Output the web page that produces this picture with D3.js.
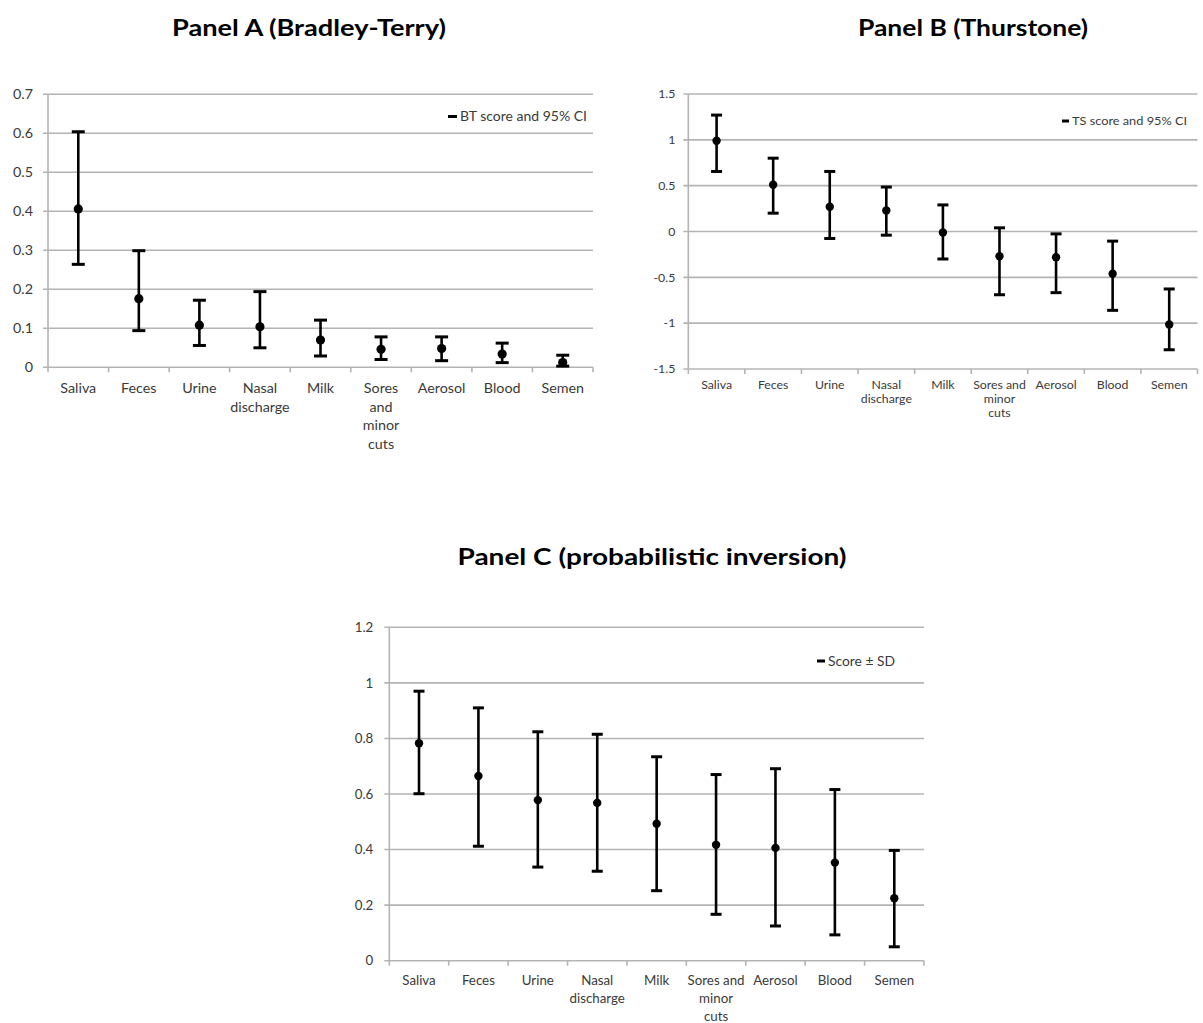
<!DOCTYPE html>
<html>
<head>
<meta charset="utf-8">
<script src="https://cdn.jsdelivr.net/npm/d3@7"></script>
<style>
  html, body { margin: 0; padding: 0; background: #fff; }
  svg { display: block; }
</style>
</head>
<body>
<svg id="chart" width="1203" height="1023"></svg>
<script>
// ---------------- DATA ----------------
const categories = ["Saliva", "Feces", "Urine", "Nasal discharge", "Milk",
  "Sores and minor cuts", "Aerosol", "Blood", "Semen"];

// Wrapped category tick labels per panel
const tickLabelsA = [["Saliva"], ["Feces"], ["Urine"], ["Nasal", "discharge"], ["Milk"],
  ["Sores", "and", "minor", "cuts"], ["Aerosol"], ["Blood"], ["Semen"]];
const tickLabelsBC = [["Saliva"], ["Feces"], ["Urine"], ["Nasal", "discharge"], ["Milk"],
  ["Sores and", "minor", "cuts"], ["Aerosol"], ["Blood"], ["Semen"]];

// Panel A (Bradley-Terry): score and 95% CI
const btScore = [0.406, 0.176, 0.108, 0.104, 0.070, 0.046, 0.048, 0.034, 0.012];
const btUpper = [0.604, 0.299, 0.172, 0.194, 0.121, 0.078, 0.078, 0.062, 0.031];
const btLower = [0.264, 0.094, 0.056, 0.050, 0.029, 0.020, 0.017, 0.012, 0.003];
const yTicksA = [0, 0.1, 0.2, 0.3, 0.4, 0.5, 0.6, 0.7];

// Panel B (Thurstone): score and 95% CI
const tsScore = [0.99, 0.51, 0.27, 0.23, -0.01, -0.27, -0.28, -0.46, -1.015];
const tsUpper = [1.27, 0.80, 0.655, 0.485, 0.29, 0.04, -0.026, -0.105, -0.627];
const tsLower = [0.655, 0.20, -0.076, -0.04, -0.30, -0.69, -0.667, -0.86, -1.29];
const yTicksB = [-1.5, -1, -0.5, 0, 0.5, 1, 1.5];

// Panel C (probabilistic inversion): score ± SD
const piScore = [0.783, 0.665, 0.578, 0.568, 0.493, 0.417, 0.406, 0.353, 0.225];
const piUpper = [0.970, 0.910, 0.824, 0.815, 0.734, 0.670, 0.691, 0.616, 0.397];
const piLower = [0.601, 0.412, 0.337, 0.322, 0.252, 0.167, 0.125, 0.093, 0.050];
const yTicksC = [0, 0.2, 0.4, 0.6, 0.8, 1, 1.2];

const titles = ["Panel A (Bradley-Terry)", "Panel B (Thurstone)", "Panel C (probabilistic inversion)"];
const legends = ["BT score and 95% CI", "TS score and 95% CI", "Score \u00b1 SD"];

// ---------------- DRAW ----------------
const svg = d3.select("#chart");
const FONT = "Lato, 'Open Sans', 'DejaVu Sans', sans-serif";
const GRID = "#b4b4b4";
const TXT = "#3a3a3a";

function drawPanel(cfg) {
  const g = svg.append("g");
  const x = d3.scaleBand().domain(categories).range([cfg.left, cfg.right]).padding(0);
  const y = d3.scaleLinear().domain(cfg.domain).range([cfg.bottom, cfg.top]);

  // gridlines (horizontal) + y ticks
  g.append("g").selectAll("line.grid").data(cfg.yTicks).join("line")
    .attr("x1", cfg.left - 5).attr("x2", cfg.right)
    .attr("y1", d => y(d)).attr("y2", d => y(d))
    .attr("stroke", GRID).attr("stroke-width", 1.6);

  // y axis line
  g.append("line")
    .attr("x1", cfg.left).attr("x2", cfg.left)
    .attr("y1", y(cfg.domain[1])).attr("y2", y(cfg.domain[0]))
    .attr("stroke", GRID).attr("stroke-width", 1.6);

  // y tick labels
  g.append("g").selectAll("text").data(cfg.yTicks).join("text")
    .attr("x", cfg.left - cfg.yLabelGap).attr("y", d => y(d))
    .attr("dy", "0.35em")
    .attr("text-anchor", "end")
    .attr("font-family", FONT).attr("font-size", cfg.fontSize).attr("fill", TXT)
    .text(d => d3.format("")(d).replace("\u2212", "-"));

  // x category boundary ticks
  const bounds = categories.map(c => x(c)).concat([cfg.right]);
  g.append("g").selectAll("line").data(bounds).join("line")
    .attr("x1", d => d).attr("x2", d => d)
    .attr("y1", cfg.bottom).attr("y2", cfg.bottom + 5)
    .attr("stroke", GRID).attr("stroke-width", 1.6);

  // x category labels
  const lab = g.append("g").selectAll("text").data(categories).join("text")
    .attr("text-anchor", "middle")
    .attr("font-family", FONT).attr("font-size", cfg.fontSize).attr("fill", TXT)
    .attr("x", d => x(d) + x.bandwidth() / 2)
    .attr("y", cfg.bottom + cfg.xLabelOffset);
  lab.each(function(d, i) {
    d3.select(this).selectAll("tspan").data(cfg.tickLabels[i]).join("tspan")
      .attr("x", x(d) + x.bandwidth() / 2)
      .attr("dy", (t, j) => j === 0 ? 0 : cfg.lineHeight)
      .text(t => t);
  });

  // error bars
  const rows = categories.map((c, i) => ({ c, v: cfg.score[i], hi: cfg.upper[i], lo: cfg.lower[i] }));
  const eb = g.append("g").selectAll("g").data(rows).join("g");
  eb.append("line")
    .attr("x1", d => x(d.c) + x.bandwidth() / 2).attr("x2", d => x(d.c) + x.bandwidth() / 2)
    .attr("y1", d => y(d.hi)).attr("y2", d => y(d.lo))
    .attr("stroke", "#000").attr("stroke-width", 2.6);
  eb.append("line")
    .attr("x1", d => x(d.c) + x.bandwidth() / 2 - cfg.cap / 2)
    .attr("x2", d => x(d.c) + x.bandwidth() / 2 + cfg.cap / 2)
    .attr("y1", d => y(d.hi)).attr("y2", d => y(d.hi))
    .attr("stroke", "#000").attr("stroke-width", 3);
  eb.append("line")
    .attr("x1", d => x(d.c) + x.bandwidth() / 2 - cfg.cap / 2)
    .attr("x2", d => x(d.c) + x.bandwidth() / 2 + cfg.cap / 2)
    .attr("y1", d => y(d.lo)).attr("y2", d => y(d.lo))
    .attr("stroke", "#000").attr("stroke-width", 3);
  eb.append("circle")
    .attr("cx", d => x(d.c) + x.bandwidth() / 2)
    .attr("cy", d => y(d.v))
    .attr("r", cfg.r).attr("fill", "#000");

  // legend
  g.append("line")
    .attr("x1", cfg.legX - cfg.legDash - 3).attr("x2", cfg.legX - 3)
    .attr("y1", cfg.legY).attr("y2", cfg.legY)
    .attr("stroke", "#000").attr("stroke-width", 3);
  g.append("text")
    .attr("x", cfg.legX).attr("y", cfg.legY).attr("dy", "0.35em")
    .attr("font-family", FONT).attr("font-size", cfg.legFont).attr("fill", TXT)
    .attr("textLength", cfg.legW).attr("lengthAdjust", "spacingAndGlyphs")
    .text(cfg.legend);

  // title
  g.append("text")
    .attr("x", cfg.titleX).attr("y", cfg.titleY)
    .attr("text-anchor", "middle")
    .attr("font-family", FONT).attr("font-weight", "bold")
    .attr("font-size", 23).attr("fill", "#000")
    .attr("textLength", cfg.titleW).attr("lengthAdjust", "spacingAndGlyphs")
    .text(cfg.title);
}

drawPanel({
  left: 48, right: 593, top: 94.3, bottom: 367.3, domain: [0, 0.7],
  yTicks: yTicksA, tickLabels: tickLabelsA,
  score: btScore, upper: btUpper, lower: btLower,
  fontSize: 14.3, yLabelGap: 15, xLabelOffset: 26, lineHeight: 18.5,
  cap: 13, r: 4.6,
  legX: 460, legY: 116.5, legDash: 9, legFont: 13.5, legW: 127, legend: legends[0],
  title: titles[0], titleX: 309, titleY: 36, titleW: 274
});

drawPanel({
  left: 688.3, right: 1197.5, top: 94, bottom: 369, domain: [-1.5, 1.5],
  yTicks: yTicksB, tickLabels: tickLabelsBC,
  score: tsScore, upper: tsUpper, lower: tsLower,
  fontSize: 12.3, yLabelGap: 13, xLabelOffset: 20, lineHeight: 14,
  cap: 11, r: 4.2,
  legX: 1072, legY: 121, legDash: 7, legFont: 12, legW: 115, legend: legends[1],
  title: titles[1], titleX: 973, titleY: 36, titleW: 230
});

drawPanel({
  left: 389.3, right: 924, top: 627.3, bottom: 960.7, domain: [0, 1.2],
  yTicks: yTicksC, tickLabels: tickLabelsBC,
  score: piScore, upper: piUpper, lower: piLower,
  fontSize: 13.3, yLabelGap: 16, xLabelOffset: 24, lineHeight: 18,
  cap: 11, r: 4.2,
  legX: 828, legY: 661, legDash: 8, legFont: 13, legW: 67, legend: legends[2],
  title: titles[2], titleX: 652, titleY: 565, titleW: 389
});
</script>
</body>
</html>
